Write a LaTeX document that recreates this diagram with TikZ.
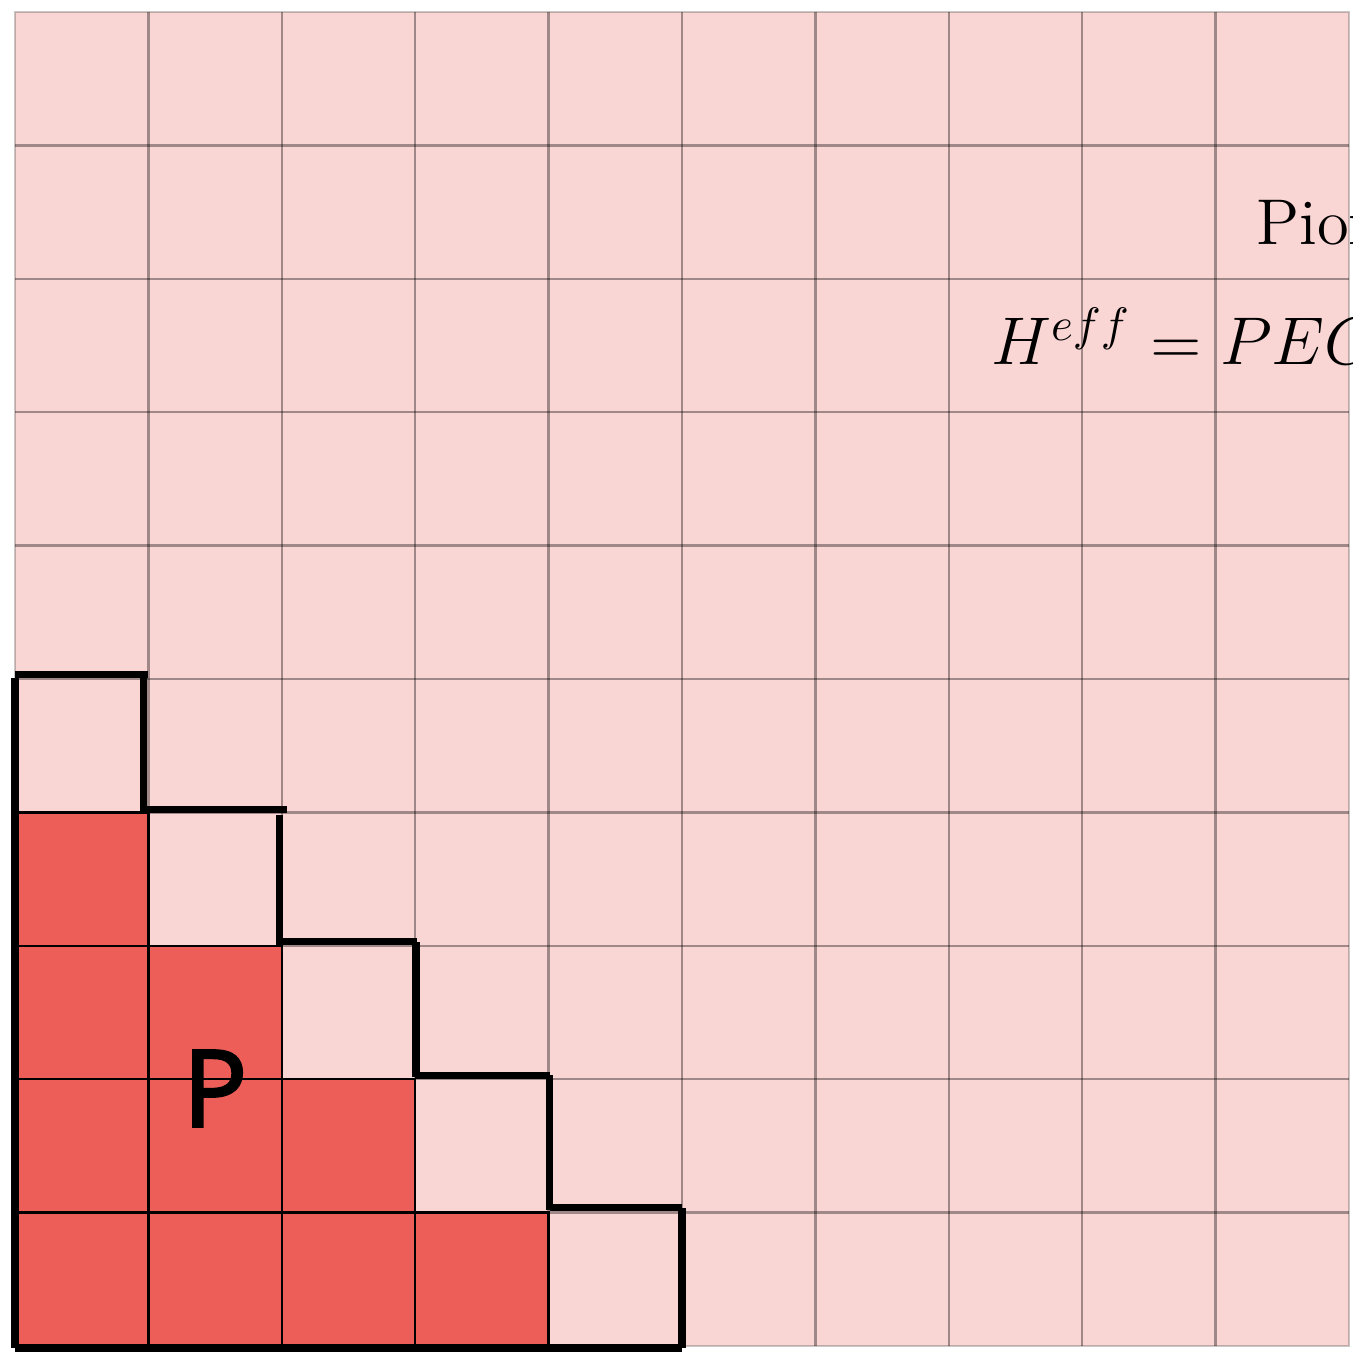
\documentclass[tikz,border=0pt]{standalone}
\usepackage{fontspec}
\newfontface\labelfont{Noto Sans}[FakeBold=1.6]
\DeclareMathSizes{13.8}{13.8}{10.2}{7.5}
\definecolor{pinkbg}{RGB}{249,214,212}
\definecolor{redcell}{RGB}{236,94,87}
\tikzset{
  gridline/.style={draw=black, draw opacity=0.36, line width=0.5pt},
  outerline/.style={draw=black, draw opacity=0.22, line width=0.6pt},
  redbox/.style={fill=redcell, draw=black, line width=0.5pt},
  stair/.style={draw=black, line width=1.5pt},
  rmtext/.style={inner sep=0pt, anchor=base west, font=\fontsize{13.8}{16}\selectfont}
}
\begin{document}
\begin{tikzpicture}
\useasboundingbox (-0.1124,-0.0525) rectangle (10.0300,10.0900);
\clip (-0.1124,-0.0525) rectangle (10.0300,10.0900);
% background
\fill[pinkbg] (0,0) rectangle (10,10);
% grid
\foreach \i in {1,...,9} {
  \draw[gridline] (\i,0) -- (\i,10);
  \draw[gridline] (0,\i) -- (10,\i);
}
\draw[outerline] (0,0) rectangle (10,10);
% red cells
\foreach \c in {0,1,2,3} { \draw[redbox] (\c,0) rectangle ++(1,1); }
\foreach \c in {0,1,2} { \draw[redbox] (\c,1) rectangle ++(1,1); }
\foreach \c in {0,1} { \draw[redbox] (\c,2) rectangle ++(1,1); }
\draw[redbox] (0,3) rectangle ++(1,1);
% staircase outline
\draw[stair] (0,-0.015) -- (0,5.01);
\draw[stair] (0,5.03) -- (1.0,5.03);
\draw[stair] (0.96,5.03) -- (0.96,3.99);
\draw[stair] (0.96,4.025) -- (2.04,4.025);
\draw[stair] (1.98,3.98) -- (1.98,3.0);
\draw[stair] (1.98,3.03) -- (3.01,3.03);
\draw[stair] (3.006,3.03) -- (3.006,2.02);
\draw[stair] (3.0,2.03) -- (4.01,2.03);
\draw[stair] (4.01,2.03) -- (4.01,1.02);
\draw[stair] (4.01,1.035) -- (5.0,1.035);
\draw[stair] (5.0,1.035) -- (5.0,-0.015);
\draw[stair] (0,-0.015) -- (5.0,-0.015);
% labels
\node[inner sep=0pt, font=\labelfont\fontsize{23}{26}\selectfont] (plabel) at (1.5,1.93) {P};
\node[rmtext] (t1) at (9.30,8.26) {Pion};
\node[rmtext] (t2) at (7.31,7.354) {$H^{eff} = PEG$};
\end{tikzpicture}
\end{document}
